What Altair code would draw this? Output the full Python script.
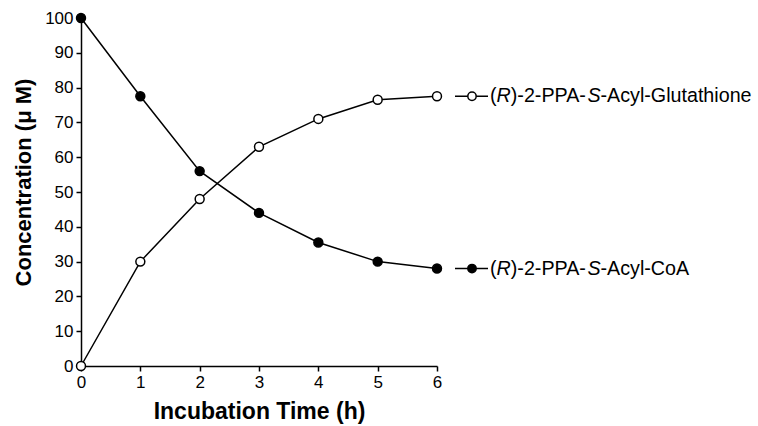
import altair as alt
import pandas as pd

hours = [0, 1, 2, 3, 4, 5, 6]
coa = [100, 77.5, 56, 44, 35.5, 30, 28]
glut = [0, 30, 48, 63, 71, 76.5, 77.5]
series_names = ["Glutathione", "CoA"]
label_tails = ["-Acyl-Glutathione", "-Acyl-CoA"]

rows = []
for h, v in zip(hours, glut):
    rows.append({"hour": h, "value": v, "series": "Glutathione"})
for h, v in zip(hours, coa):
    rows.append({"hour": h, "value": v, "series": "CoA"})
df = pd.DataFrame(rows)

end = pd.DataFrame({
    "hour": [hours[-1], hours[-1]],
    "value": [glut[-1], coa[-1]],
    "series": series_names,
    "tail": label_tails,
})

FONT = "Liberation Sans"
FS = 19.7

x = alt.X("hour:Q", scale=alt.Scale(domain=[0, 6], nice=False),
          axis=alt.Axis(values=hours, title="Incubation Time (h)", format="d"))
y = alt.Y("value:Q", scale=alt.Scale(domain=[0, 100], nice=False),
          axis=alt.Axis(values=list(range(0, 101, 10)), title="Concentration (μ M)"))

fill = alt.Fill("series:N", scale=alt.Scale(domain=series_names, range=["white", "black"]), legend=None)

lines = alt.Chart(df).mark_line(color="black", strokeWidth=1.5).encode(x=x, y=y, detail="series:N")
points = alt.Chart(df).mark_point(shape="circle", size=80, stroke="black", strokeWidth=1.5, opacity=1, filled=False).encode(
    x=x, y=y, fill=fill)

base_end = alt.Chart(end)
glyph_line = base_end.mark_rule(color="black", strokeWidth=1.5, xOffset=18, x2Offset=51).encode(
    x=x, x2="hour", y=y)
glyph_pt = base_end.mark_point(shape="circle", size=70, stroke="black", strokeWidth=1.5, opacity=1, xOffset=35).encode(
    x=x, y=y, fill=fill)

em = FS
d0 = 53
d1 = d0 + 0.333 * em
d2 = d1 + 0.722 * em
d3 = d2 + 3.889 * em
d4 = d3 + 0.667 * em

def piece(txt, dx, italic=False, field=None):
    m = base_end.mark_text(align="left", baseline="middle", dx=dx, fontSize=FS, font=FONT,
                           color="black", fontStyle="italic" if italic else "normal")
    if field:
        return m.encode(x=x, y=y, text=f"{field}:N")
    return m.encode(x=x, y=y, text=alt.value(txt))

labels = [
    piece("(", d0),
    piece("R", d1, italic=True),
    piece(")-2-PPA-", d2),
    piece("S", d3, italic=True),
    piece(None, d4, field="tail"),
]

chart = alt.layer(lines, points, glyph_line, glyph_pt, *labels).properties(
    width=356, height=348,
    autosize=alt.AutoSizeParams(type="none"),
    padding={"left": 81, "top": 18, "right": 321, "bottom": 60},
    background="white",
).configure_view(stroke=None).configure_axis(
    grid=False, domainColor="black", domainWidth=1.5, tickColor="black", tickWidth=1.5,
    tickSize=5, labelFont=FONT, labelFontSize=17, labelColor="black", labelPadding=3,
    labelOverlap=False, labelFlush=False,
    titleFont=FONT, titleFontSize=22, titleFontWeight="bold", titleColor="black", zindex=1,
).configure_axisX(titlePadding=10, titleFontSize=23).configure_axisY(
    titlePadding=9, titleFontSize=22, titleY=164, titleAnchor="middle")

chart.save("out.html", embed_options={"renderer": "svg", "actions": False})
